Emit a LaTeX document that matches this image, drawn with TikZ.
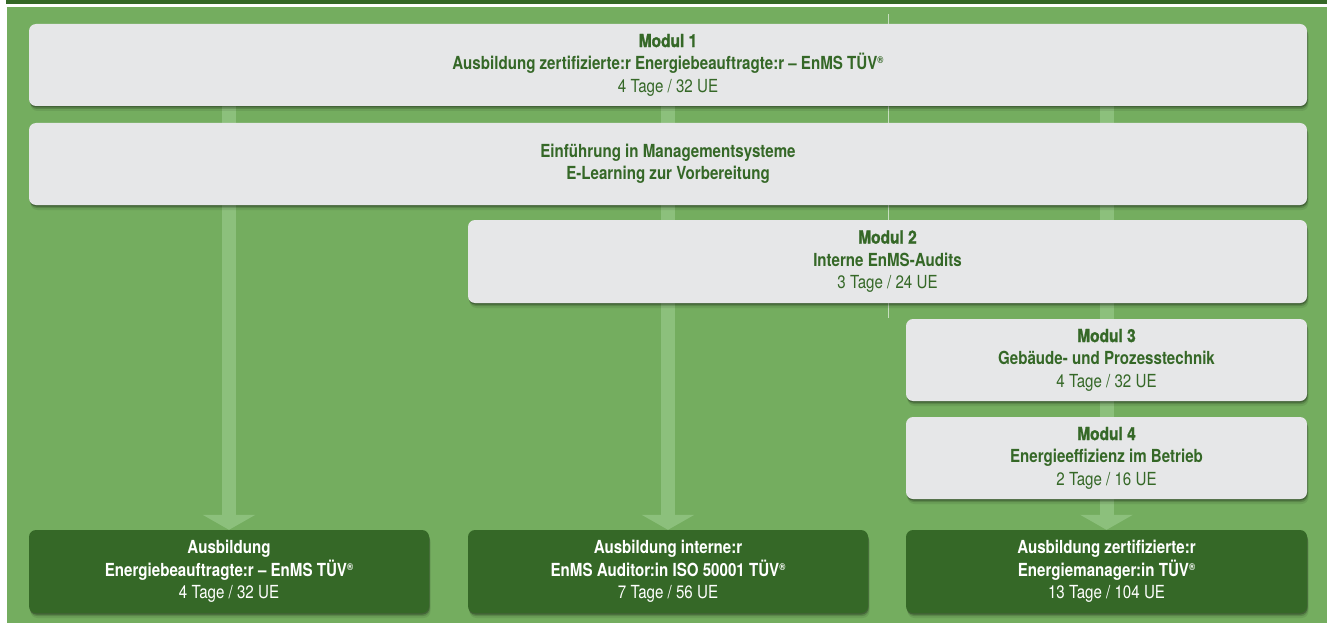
\documentclass[tikz,border=0pt]{standalone}
\usepackage{fontspec}
\setmainfont{TeX Gyre Heros}[FakeStretch=0.84]
\newfontfamily\heavyfont{TeX Gyre Heros}[FakeStretch=0.86, FakeBold=1.4]
\usetikzlibrary{arrows.meta,shadows}
\definecolor{bggreen}{RGB}{116,173,95}
\definecolor{darkgreen}{RGB}{53,104,39}
\definecolor{boxgray}{RGB}{230,231,232}
\definecolor{txtgreen}{RGB}{53,104,39}
\definecolor{arrowc}{RGB}{140,192,124}
\newcommand\regmark{\raisebox{0.6ex}{\scalebox{0.55}{®}}}
\newcommand\modtitle[1]{{\heavyfont\bfseries #1}}
\pgfdeclarelayer{bottomlayer}
\pgfdeclarelayer{midlayer}
\pgfsetlayers{bottomlayer,midlayer,main}
\begin{document}
\begin{tikzpicture}[x=1pt,y=-1pt,
  softshadow/.style={
    drop shadow={shadow xshift=0.5pt,shadow yshift=-1.5pt,opacity=0.25,fill=black},
    drop shadow={shadow xshift=1pt,shadow yshift=-3pt,opacity=0.15,fill=black},
    drop shadow={shadow xshift=1.5pt,shadow yshift=-5pt,opacity=0.08,fill=black}},
  basebox/.style={rounded corners=7pt, inner sep=0pt, minimum height=82pt,
    align=center, font=\fontsize{18}{22.5}\selectfont, softshadow},
  lbox/.style={basebox, fill=boxgray, text=txtgreen},
  dbox/.style={basebox, fill=darkgreen, text=white},
  flow/.style={draw=arrowc, line width=14pt, -{Triangle[width=52pt,length=15pt]}}
]
\useasboundingbox (0,0) rectangle (1327,623);
\begin{pgfonlayer}{bottomlayer}
  \fill[white] (0,0) rectangle (1327,623);
  \fill[darkgreen] (6,0) rectangle (1327,4);
  \fill[bggreen] (7,7) rectangle (1327,623);
  \draw[white,opacity=.6,line width=.6pt] (888,14) -- (888,318);
\end{pgfonlayer}

\node[lbox, minimum width=1278pt] (m1) at (668,65)
  {\modtitle{Modul 1}\\ \textbf{Ausbildung zertifizierte:r Energiebeauftragte:r – EnMS TÜV\regmark}\\ 4 Tage / 32 UE};
\node[lbox, minimum width=1278pt] (intro) at (668,164)
  {\textbf{Einführung in Managementsysteme}\\ \textbf{E-Learning zur Vorbereitung}};
\node[lbox, minimum width=839pt, minimum height=83pt] (m2) at (887.5,261.5)
  {\modtitle{Modul 2}\\ \textbf{Interne EnMS-Audits}\\ 3 Tage / 24 UE};
\node[lbox, minimum width=401pt] (m3) at (1106.5,360)
  {\modtitle{Modul 3}\\ \textbf{Gebäude- und Prozesstechnik}\\ 4 Tage / 32 UE};
\node[lbox, minimum width=401pt] (m4) at (1106.5,458)
  {\modtitle{Modul 4}\\ \textbf{Energieeffizienz im Betrieb}\\ 2 Tage / 16 UE};

\node[dbox, minimum width=400pt, minimum height=83pt] (d1) at (229,571.5)
  {\textbf{Ausbildung}\\ \textbf{Energiebeauftragte:r – EnMS TÜV\regmark}\\ 4 Tage / 32 UE};
\node[dbox, minimum width=400pt, minimum height=83pt] (d2) at (668,571.5)
  {\textbf{Ausbildung interne:r}\\ \textbf{EnMS Auditor:in ISO 50001 TÜV\regmark}\\ 7 Tage / 56 UE};
\node[dbox, minimum width=401pt, minimum height=83pt] (d3) at (1106.5,571.5)
  {\textbf{Ausbildung zertifizierte:r}\\ \textbf{Energiemanager:in TÜV\regmark}\\ 13 Tage / 104 UE};

\begin{pgfonlayer}{midlayer}
  \draw[flow] (m1.south -| d1.north) -- (d1.north);
  \draw[flow] (m1.south -| d2.north) -- (d2.north);
  \draw[flow] (m1.south -| d3.north) -- (d3.north);
\end{pgfonlayer}
\end{tikzpicture}
\end{document}
